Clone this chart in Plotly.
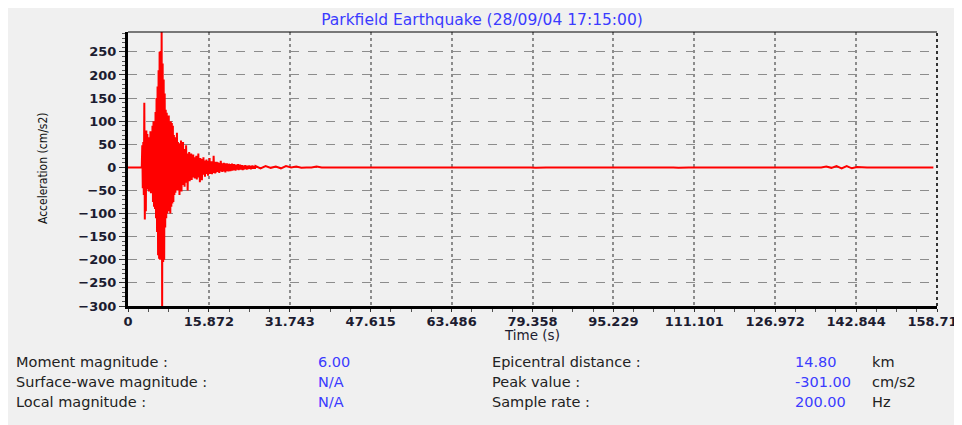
import numpy as np
import plotly.graph_objects as go

# ---------------- data ----------------
title_text = "Parkfield Earthquake (28/09/04 17:15:00)"

x_tick_vals = [0, 15.872, 31.743, 47.615, 63.486, 79.358, 95.229, 111.101, 126.972, 142.844, 158.715]
x_tick_text = ["0", "15.872", "31.743", "47.615", "63.486", "79.358", "95.229", "111.101", "126.972", "142.844", "158.715"]
y_tick_vals = [-300, -250, -200, -150, -100, -50, 0, 50, 100, 150, 200, 250]

# quiet part before the first arrival
pre_time = [0.0, 2.6]
pre_accel = [0, 0]

# strong-motion part, one value every 0.1 s starting at 2.7 s
strong_start = 2.7
strong_dt = 0.1
strong_accel = [
    0, 48, -45, 55, -60, 140, -113, 62, -95, 80,
    -48, 72, -40, 65, -52, 58, -44, 78, -56, 66,
    -50, 90, -75, 100, -85, 95, -90, 120, -110, 150,
    -140, 175, -190, 210, -198, 250, -200, 252, -180, 298,
    -301, 225, -205, 190, -200, 160, -130, 125, -110, 118,
    -100, 105, -80, 112, -95, 98, -100, 100, -85, 96,
    -78, 90, -75, 70, -60, 65, -55, 60, -48, 75,
    -50, 55, -45, 50, -60, 52, -40, 58, -52, 45,
    -38, 55, -35, 40, -42, 35, -30, 48, -33, 30,
    -50, 28, -28, 33, -30, 26, -25, 30, -27, 24,
    -22, 28, -20, 22, -24, 20, -18, 25, -26, 22,
    -20, 30, -22, 18, -32, 20, -18, 16, -28, 18,
    -15, 22, -16, 14, -20, 15, -14, 17, -13, 12,
    -18, 14, -12, 20, -14, 12, -11, 13, -15, 11,
    -12, 25, -10, 12, -13, 10, -11, 12, -9, 11,
    -10, 9, -12, 10, -9, 14, -8, 9, -10, 8,
    -9, 10, -8, 9, -11, 8, -7, 9, -8, 7,
    -9, 8, -7, 6, -8, 7, -6, 8, -7, 6,
    -5, 7, -6, 5, -7, 6, -5, 6, -5, 7,
    -6, 5, -4, 6, -5, 5, -4, 5, -6, 4,
    -5, 4, -4, 5, -3, 4, -5, 3, -4, 4,
    -3, 4, -3, 3, -4, 3, -3, 4, -2, 3,
    -3, 2, -3, 3,
]

# coda / tail, one value every 1 s starting at 25 s
tail_start = 25.0
tail_dt = 1.0
tail_accel = [
    3, -2, 3, -1, 2, -2, 3, 0, 2, -1,
    0, 0, 2, 0, 0, 0, 1, 0, 0, 0,
    0, 0, 0, 0, 1, 0, 0, 0, 0, 0,
    0, 0, 1, 0, 0, 0, 0, 0, 0, 0,
    0, 0, 0, 0, 1, 0, 0, 0, 0, 0,
    0, 0, 0, 0, 0, -1, 0, 0, 0, 0,
    0, 0, 0, 0, 0, 0, 0, 0, 0, 0,
    0, 0, 1, 0, 0, 0, 0, 0, 0, 0,
    0, 0, 0, -1, 0, 0, 0, 0, 0, 0,
    0, 0, 0, 0, 0, 0, 0, 0, 0, 0,
    0, 0, 0, 0, 0, 0, 0, 0, 0, 0,
    0, 0, 2, -1, 3, -2, 3, -2, 1, 0,
    0, 0, 0, 0, 0, 0, 0, 0, 0, 0,
    0, 0, 0, 0,
]

info_left_labels = ["Moment magnitude :", "Surface-wave magnitude :", "Local magnitude :"]
info_left_values = ["6.00", "N/A", "N/A"]
info_right_labels = ["Epicentral distance :", "Peak value :", "Sample rate :"]
info_right_values = ["14.80", "-301.00", "200.00"]
info_right_units = ["km", "cm/s2", "Hz"]

# ---------------- build series ----------------
strong_time = list(np.round(strong_start + strong_dt * np.arange(len(strong_accel)), 3))
tail_time = list(np.round(tail_start + tail_dt * np.arange(len(tail_accel)), 3))
time_s = pre_time + strong_time + tail_time
accel = pre_accel + strong_accel + tail_accel

# page has an 8px body margin, so the figure is placed 8px in
OFF = 8
W, H = 962 - OFF, 425 - OFF
L, R, T, B = 128 - OFF, 25, 32 - OFF, 119
pw, ph = W - L - R, H - T - B

BG = "#f0f0f0"
SANS = "DejaVu Sans, Verdana, sans-serif"
TICKFONT = dict(family=SANS, size=13, color="#1c1c30", weight="bold")

fig = go.Figure()
fig.add_trace(go.Scatter(x=time_s, y=accel, mode="lines",
                         line=dict(color="#ff0000", width=2),
                         hoverinfo="skip", showlegend=False))

fig.update_layout(
    width=W, height=H,
    margin=dict(l=L, r=R, t=T, b=B, autoexpand=False),
    paper_bgcolor=BG, plot_bgcolor=BG,
    title=dict(text=title_text, x=(482 - OFF) / W, xref="container", xanchor="center",
               y=1 - (20 - OFF) / H, yref="container", yanchor="middle",
               font=dict(family=SANS, size=15.5, color="#3b3bff")),
    showlegend=False,
)

fig.update_xaxes(
    range=[0, 158.715], tickmode="array", tickvals=x_tick_vals, ticktext=x_tick_text,
    ticklabeloverflow="allow", ticklabelstandoff=-2,
    showline=True, linewidth=3, linecolor="black", mirror=False,
    ticks="outside", ticklen=3, tickwidth=1, tickcolor="#333",
    minor=dict(ticks="outside", ticklen=3, tickcolor="#555", dtick=3.968, tick0=0, showgrid=False),
    showgrid=True, gridcolor="#8c8c8c", gridwidth=1.5, griddash="dot",
    zeroline=False, tickfont=TICKFONT,
)
fig.update_yaxes(
    range=[-300, 293], tickmode="array", tickvals=y_tick_vals,
    ticklabeloverflow="allow",
    showline=True, linewidth=3, linecolor="black", mirror=False,
    ticks="outside", ticklen=6, tickwidth=1, tickcolor="#333",
    minor=dict(ticks="outside", ticklen=3, tickcolor="#555", dtick=10, tick0=0, showgrid=False),
    showgrid=True, gridcolor="#8c8c8c", gridwidth=1.2, griddash="dash",
    zeroline=False, tickfont=TICKFONT,
)

# thin top border and dotted right border
fig.add_shape(type="line", xref="paper", yref="paper", x0=0, x1=1, y0=1, y1=1,
              line=dict(color="black", width=1))
fig.add_shape(type="line", xref="paper", yref="paper", x0=1, x1=1, y0=0, y1=1,
              line=dict(color="#333", width=2, dash="dot"))


def px_x(px):
    return (px - OFF - L) / pw


def px_y(py):
    return (H - B - (py - OFF)) / ph


# axis titles
fig.add_annotation(text="Acceleration (cm/s2)", xref="paper", yref="paper",
                   x=px_x(43), y=px_y(168), textangle=-90,
                   showarrow=False, xanchor="center", yanchor="middle",
                   font=dict(family="DejaVu Sans Condensed, Liberation Sans Narrow, Arial Narrow, sans-serif",
                             size=12, color="#111"))
fig.add_annotation(text="Time (s)", xref="paper", yref="paper",
                   x=px_x(532), y=px_y(335), showarrow=False,
                   xanchor="center", yanchor="middle",
                   font=dict(family=SANS, size=13.5, color="#1c1c30"))

INFO_FONT = dict(family=SANS, size=14.5, color="#222")
VAL_FONT = dict(family=SANS, size=14.5, color="#3b3bff")
rows_py = [362, 382, 402]

for i, py in enumerate(rows_py):
    for txt, xpx, fnt in [
        (info_left_labels[i], 14, INFO_FONT),
        (info_left_values[i], 316, VAL_FONT),
        (info_right_labels[i], 490, INFO_FONT),
        (info_right_values[i], 793, VAL_FONT),
        (info_right_units[i], 870, INFO_FONT),
    ]:
        fig.add_annotation(text=txt, xref="paper", yref="paper", x=px_x(xpx), y=px_y(py),
                           xanchor="left", yanchor="middle", showarrow=False, font=fnt)

fig.write_html("out.html")
